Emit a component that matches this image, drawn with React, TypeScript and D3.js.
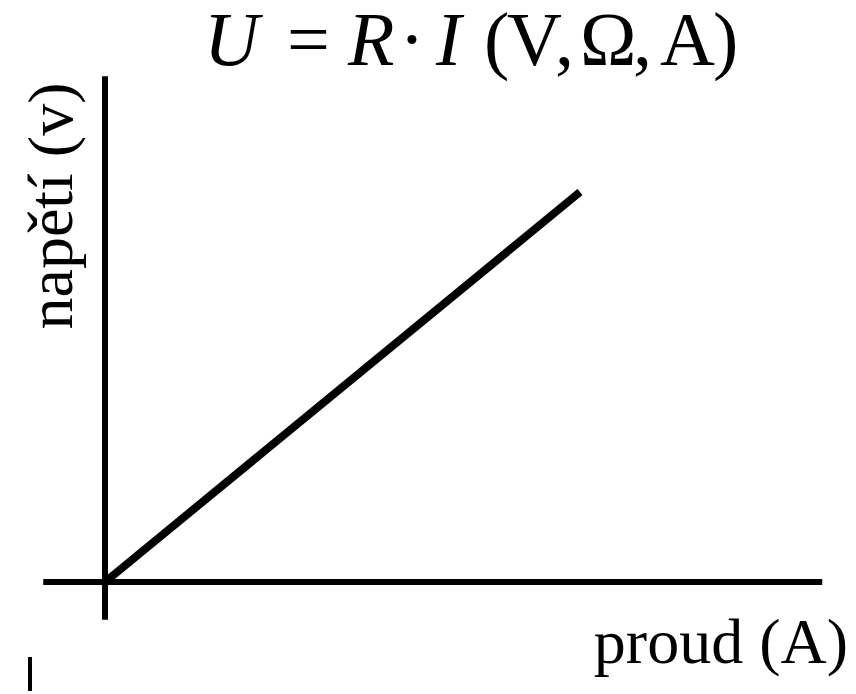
import React from "react";
import * as d3 from "d3";

const currents = [0, 10];
const voltages = [0, 10];
const xAxisExtent = [-1.3, 15.1];
const yAxisExtent = [-0.97, 12.97];
const titleParts = [
  { t: "U", italic: true, x: 204, anchor: "start" },
  { t: "=", italic: false, x: 287, anchor: "start" },
  { t: "R", italic: true, x: 348, anchor: "start" },
  { t: "·", italic: false, x: 412, anchor: "middle" },
  { t: "I", italic: true, x: 436, anchor: "start" },
  { t: "(", italic: false, x: 484, anchor: "start" },
  { t: "V", italic: false, x: 507, anchor: "start" },
  { t: ",", italic: false, x: 555, anchor: "start" },
  { t: "Ω", italic: false, x: 580, anchor: "start" },
  { t: ",", italic: false, x: 633, anchor: "start" },
  { t: "A", italic: false, x: 660, anchor: "start" },
  { t: ")", italic: false, x: 713, anchor: "start" },
];
const xLabel = "proud (A)";
const yLabel = "napětí (v)";

const W = 856;
const H = 694;

export default function App() {
  const x = d3.scaleLinear().domain([0, 10]).range([105, 580]);
  const y = d3.scaleLinear().domain([0, 10]).range([582, 192]);
  const pts: [number, number][] = currents.map((c, i) => [c, voltages[i]]);
  const line = d3
    .line<[number, number]>()
    .x((d) => x(d[0]))
    .y((d) => y(d[1]));
  const font = "'Liberation Serif', 'Times New Roman', serif";
  return (
    <div style={{ position: "absolute", left: 0, top: 0, width: W, height: H }}>
      <svg width={W} height={H} style={{ display: "block", background: "#fff" }}>
        <rect width={W} height={H} fill="#fff" />
        {/* axes */}
        <line x1={x(xAxisExtent[0])} x2={x(xAxisExtent[1])} y1={y(0)} y2={y(0)} stroke="#000" strokeWidth={6} />
        <line x1={x(0)} x2={x(0)} y1={y(yAxisExtent[0])} y2={y(yAxisExtent[1])} stroke="#000" strokeWidth={6} />
        {/* data line */}
        <path d={line(pts) || ""} fill="none" stroke="#000" strokeWidth={8} strokeLinecap="butt" />
        {/* title */}
        <g fontFamily={font} fontSize={76} fill="#000">
          {titleParts.map((p, i) => (
            <text key={i} x={p.x} y={65} textAnchor={p.anchor} fontStyle={p.italic ? "italic" : "normal"}>
              {p.t}
            </text>
          ))}
        </g>
        {/* x label */}
        <text x={848} y={663} textAnchor="end" fontFamily={font} fontSize={64} fill="#000">
          {xLabel}
        </text>
        {/* y label */}
        <text
          transform={`translate(72,${(82 + 330) / 2}) rotate(-90)`}
          textAnchor="middle"
          fontFamily={font}
          fontSize={64}
          fill="#000"
        >
          {yLabel}
        </text>
        {/* stray mark */}
        <line x1={30} x2={30} y1={657} y2={691} stroke="#000" strokeWidth={4} />
      </svg>
    </div>
  );
}
